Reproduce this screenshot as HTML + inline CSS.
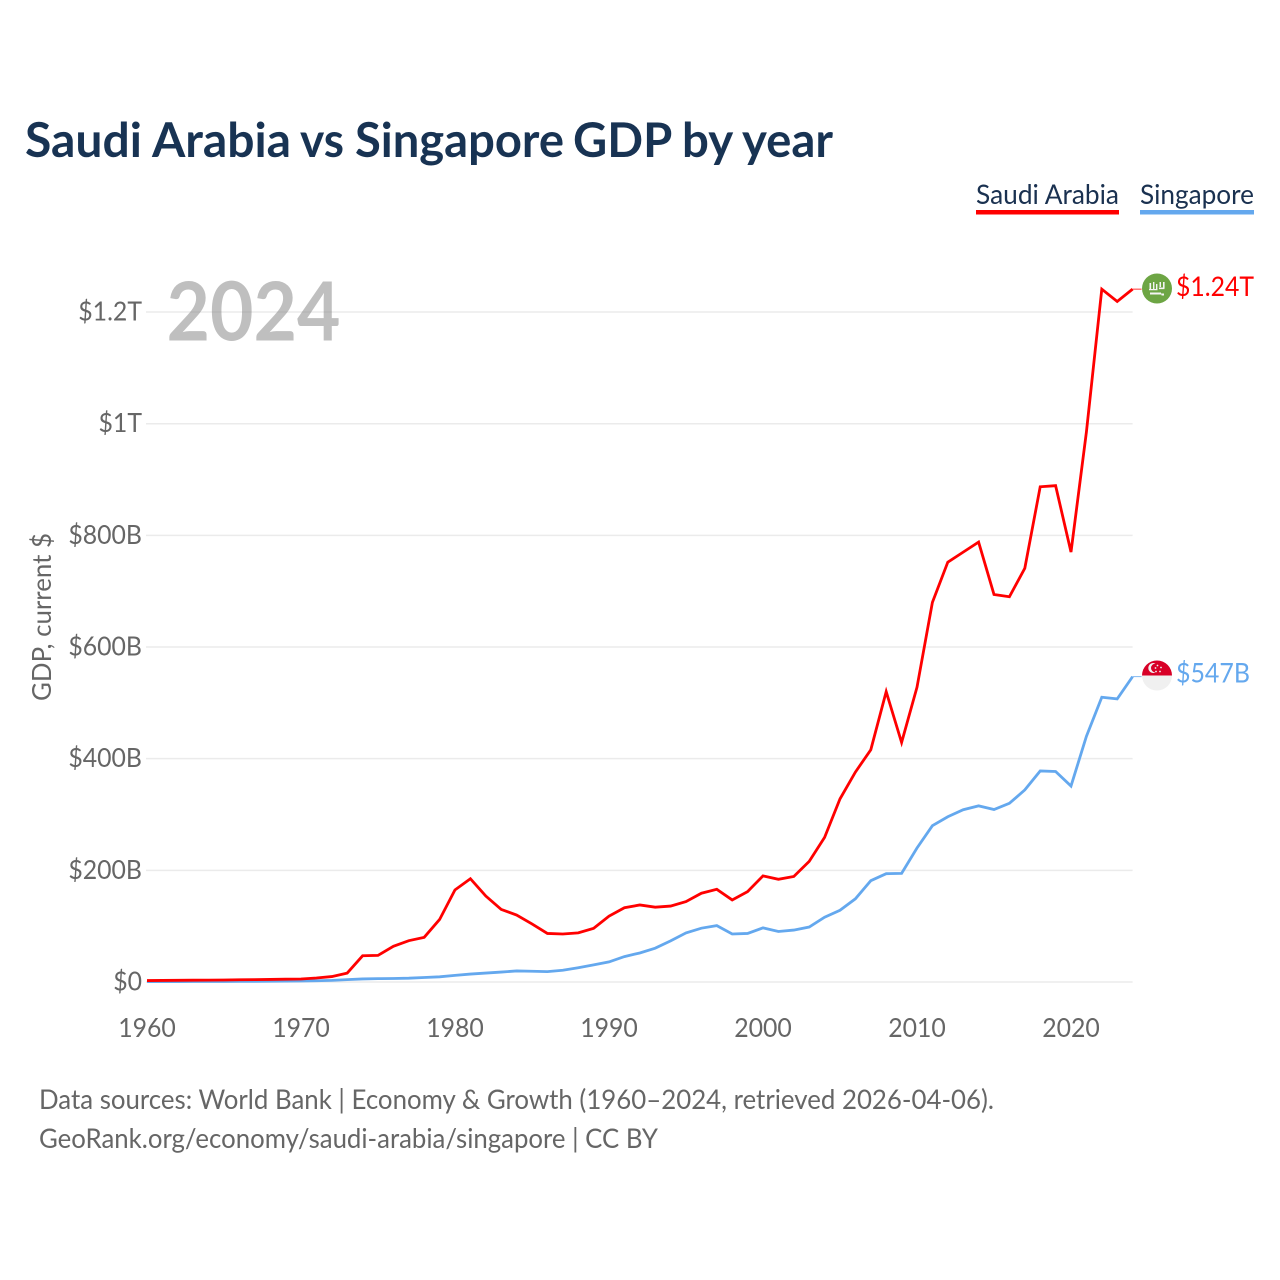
<!DOCTYPE html>
<html lang="en">
<head>
<meta charset="utf-8">
<title>Saudi Arabia vs Singapore GDP by year</title>
<style>
html,body{margin:0;padding:0;background:#fff;width:1280px;height:1280px;overflow:hidden}
svg{display:block}
text{font-family:"Lato","Carlito","Liberation Sans",sans-serif}
</style>
</head>
<body>
<svg id="chart" xmlns="http://www.w3.org/2000/svg" width="1280" height="1280" viewBox="0 0 1280 1280">
  <rect x="0" y="0" width="1280" height="1280" fill="#fff"/>
  <text y="157" font-size="48" font-weight="700" fill="#183353"><tspan x="25" textLength="266" lengthAdjust="spacingAndGlyphs">Saudi Arabia</tspan> <tspan x="300" textLength="44" lengthAdjust="spacingAndGlyphs">vs</tspan> <tspan x="355" textLength="209" lengthAdjust="spacingAndGlyphs">Singapore</tspan> <tspan x="573" textLength="98" lengthAdjust="spacingAndGlyphs">GDP</tspan> <tspan x="682" textLength="50" lengthAdjust="spacingAndGlyphs">by</tspan> <tspan x="742" textLength="91" lengthAdjust="spacingAndGlyphs">year</tspan></text>

  <g>
    <text x="976" y="204" font-size="27" fill="#1a3150" textLength="143" lengthAdjust="spacingAndGlyphs">Saudi Arabia</text>
    <rect x="976" y="210" width="143" height="4.5" fill="#ff0000"/>
  </g>
  <g>
    <text x="1140" y="204" font-size="27" fill="#1a3150" textLength="114" lengthAdjust="spacingAndGlyphs">Singapore</text>
    <rect x="1140" y="210" width="114" height="4.5" fill="#64a8ee"/>
  </g>

  <g id="grid"></g>
  <text x="166.5" y="340.5" font-size="81" font-weight="700" fill="#808080" fill-opacity="0.5" textLength="174" lengthAdjust="spacingAndGlyphs">2024</text>
  <g id="yticks"></g>
  <g id="xticks"></g>
  <text transform="translate(51,617) rotate(-90)" text-anchor="middle" font-size="26" fill="#666" textLength="168" lengthAdjust="spacingAndGlyphs">GDP, current $</text>

  <g id="series"></g>

  <g>
    <circle cx="1157" cy="288.5" r="15" fill="#6da544"/>
    <path d="M1149.5 283h1.6v6h-1.6zM1153 282h1.4v7h-1.4zM1156 284h1.4v5h-1.4zM1159.5 282h1.5v5h-1.5zM1163 282h1.6v6h-1.6zM1149 289h8.5v1.2H1149zM1159 287.5h5.5v1.6h-5.5z" fill="#f4f4f4"/>
    <path d="M1150 292.5h11v1h3v2h-2.5v-1H1150z" fill="#f4f4f4"/>
  </g>
  <g>
    <circle cx="1157" cy="675.5" r="15" fill="#f0f0f0"/>
    <path d="M1142 675.5a15 15 0 0 1 30 0z" fill="#d80027"/>
    <path d="M1155.5 663.5a5 5 0 1 0 0 9a4.2 4.2 0 1 1 0-9z" fill="#f0f0f0"/>
    <g fill="#f0f0f0">
      <circle cx="1157.5" cy="665.5" r="0.9"/>
      <circle cx="1161" cy="667.5" r="0.9"/>
      <circle cx="1160" cy="671.5" r="0.9"/>
      <circle cx="1156" cy="671.5" r="0.9"/>
      <circle cx="1155.5" cy="668" r="0.9"/>
    </g>
  </g>

  <text x="1176" y="296" font-size="27" fill="#ff0000" textLength="78" lengthAdjust="spacingAndGlyphs">$1.24T</text>
  <text x="1176" y="682.5" font-size="27" fill="#64a8ee" textLength="74" lengthAdjust="spacingAndGlyphs">$547B</text>

  <text x="39" y="1109" font-size="27" fill="#666" textLength="955" lengthAdjust="spacingAndGlyphs">Data sources: World Bank | Economy &amp; Growth (1960–2024, retrieved 2026-04-06).</text>
  <text x="39" y="1148" font-size="27" fill="#666" textLength="619" lengthAdjust="spacingAndGlyphs">GeoRank.org/economy/saudi-arabia/singapore | CC BY</text>
</svg>
<script>
const firstYear = 1960;
const saudiArabiaGdp = [2.6,2.8,3.0,3.2,3.4,3.6,4.0,4.3,4.6,5.0,5.4,7.2,9.7,16,47,47.6,64,74,80,112,165,185,154,130,120,104,87,86,88,96,118,133,138,134,136,144,159,166,147,162,190,184,189,216,259,328,376,416,520,429,528,680,752,770,788,694,690,741,887,889,770,985,1241,1219,1241];
const singaporeGdp = [0.7,0.76,0.83,0.96,0.89,0.97,1.1,1.2,1.4,1.7,1.9,2.3,2.9,4.2,5.5,6,6.3,6.8,8,9.3,11.9,14.2,16,17.8,19.8,19.2,18.6,21,25.5,30.6,36,45.5,52,60.6,73.7,87.9,96.4,101,86,87,97,90.5,93,98.5,116,128.5,149,181.5,194,194.6,240,280,296,308.5,315.5,309,320,344,378,377,351,440,510,507,547];
const yTickValues = [0,200,400,600,800,1000,1200];
const yTickLabels = ["$0","$200B","$400B","$600B","$800B","$1T","$1.2T"];
const xTickYears = [1960,1970,1980,1990,2000,2010,2020];

const NS = "http://www.w3.org/2000/svg";
const xScale = function (year) { return 147 + (year - 1960) * 15.4; };
const yScale = function (value) { return 982 - value * 0.5583; };

function make(parent, tag, attrs, text) {
  const el = document.createElementNS(NS, tag);
  Object.keys(attrs).forEach(function (k) { el.setAttribute(k, attrs[k]); });
  if (text !== undefined) el.textContent = text;
  parent.appendChild(el);
  return el;
}

function condense(label) {
  label.setAttribute("textLength", (label.getComputedTextLength() * 0.955).toFixed(2));
  label.setAttribute("lengthAdjust", "spacingAndGlyphs");
}

const gridGroup = document.getElementById("grid");
const yTickGroup = document.getElementById("yticks");
const xTickGroup = document.getElementById("xticks");
const seriesGroup = document.getElementById("series");
const xEnd = xScale(firstYear + saudiArabiaGdp.length - 1);

yTickValues.forEach(function (value, i) {
  const y = yScale(value);
  const line = make(gridGroup, "line", {x1: 146, x2: xEnd, y1: y, y2: y, stroke: "#ebebeb", "stroke-width": 1.5});
  
  
  const label = make(yTickGroup, "text", {x: 142, y: y + 8.5, "text-anchor": "end", "font-size": 26, fill: "#666"}, yTickLabels[i]);
  
  
  condense(label);
});

xTickYears.forEach(function (year) {
  const label = make(xTickGroup, "text", {x: xScale(year), y: 1037, "text-anchor": "middle", "font-size": 26, fill: "#666"}, String(year));
  
  
  condense(label);
});

function linePath(values) {
  return values.map(function (v, i) {
    return (i ? "L" : "M") + xScale(firstYear + i).toFixed(2) + " " + yScale(v).toFixed(2);
  }).join("");
}

const singaporeLine = make(seriesGroup, "path", {d: linePath(singaporeGdp), fill: "none", stroke: "#64a8ee", "stroke-width": 2.8, "stroke-linejoin": "miter"});


const saudiLine = make(seriesGroup, "path", {d: linePath(saudiArabiaGdp), fill: "none", stroke: "#ff0000", "stroke-width": 2.8, "stroke-linejoin": "miter"});



const saudiLast = saudiArabiaGdp[saudiArabiaGdp.length - 1];
const singaporeLast = singaporeGdp[singaporeGdp.length - 1];
const saudiConnector = make(seriesGroup, "line", {x1: xEnd, x2: xEnd + 9, y1: yScale(saudiLast), y2: yScale(saudiLast), stroke: "#ff0000", "stroke-width": 1, opacity: 0.8});


const singaporeConnector = make(seriesGroup, "line", {x1: xEnd, x2: xEnd + 9, y1: yScale(singaporeLast), y2: yScale(singaporeLast), stroke: "#64a8ee", "stroke-width": 1, opacity: 0.8});


</script>
</body>
</html>
